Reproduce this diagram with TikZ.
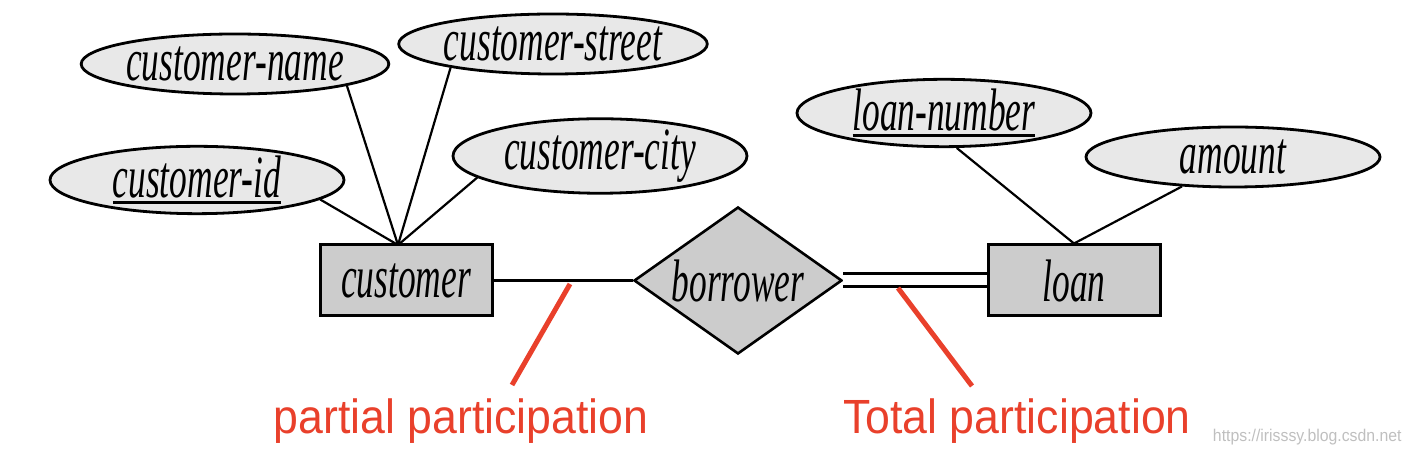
\documentclass[tikz,border=0pt]{standalone}
\usepackage{fontspec}
\setmainfont{Liberation Serif}
\newfontfamily\erfont[FakeStretch=0.59]{Liberation Serif}
\newfontfamily\lblfont[FakeStretch=0.93]{Liberation Sans}
\usetikzlibrary{shapes.geometric}
\definecolor{attrfill}{HTML}{E8E8E8}
\definecolor{entfill}{HTML}{CCCCCC}
\definecolor{annot}{HTML}{E9402B}
\newcommand\keyattr[1]{\setbox0\hbox{#1}\rlap{\rule[-3pt]{\wd0}{1.2pt}}\box0}
\begin{document}
\begin{tikzpicture}[x=0.5pt,y=-0.5pt,
  ertext/.style={font=\erfont\itshape\fontsize{30}{32}\selectfont},
  attr/.style={ertext, ellipse, draw, line width=1.4pt, fill=attrfill,
    minimum width=147pt, minimum height=30pt, inner sep=0pt},
  entity/.style={ertext, rectangle, draw, line width=1.5pt, fill=entfill,
    minimum width=86pt, minimum height=35.5pt, inner sep=0pt},
  rel/.style={ertext, diamond, draw, line width=1.3pt, fill=entfill,
    minimum width=104pt, minimum height=73.5pt, inner sep=0pt, shape aspect=1.4},
  conn/.style={line width=1.1pt},
  totalconn/.style={line width=1.5pt, double distance=5pt},
  pointer/.style={draw=annot, line width=2.5pt},
  annotlabel/.style={text=annot, font=\lblfont\fontsize{24}{26}\selectfont, inner sep=0pt, anchor=base},
  watermark/.style={text=black!25, font=\lblfont\fontsize{8.5}{9}\selectfont, inner sep=0pt, anchor=base east}
]
\useasboundingbox (0,0) rectangle (1410,458);

% attributes
\node[attr] (cname)   at (235,64)  {customer-name};
\node[attr] (cstreet) at (553,44)  {customer-street};
\node[attr] (cid)     at (197,180) {\keyattr{customer-id}};
\node[attr] (ccity)   at (600,156) {customer-city};
\node[attr] (lnum)    at (944,113) {\keyattr{loan-number}};
\node[attr] (amount)  at (1233,157) {amount};

% entities and relationship
\node[entity] (customer) at (406,280.5) {customer};
\node[rel]    (borrower) at (738,280.5) {borrower};
\node[entity] (loan)     at (1074,280.5) {loan};

% attribute connectors
\coordinate (cjoin) at (398,245);
\draw[conn] (cid.-9) -- (cjoin);
\draw[conn] (cname.-11) -- (cjoin);
\draw[conn] (cstreet.-167) -- (cjoin);
\draw[conn] (ccity.-170) -- (cjoin);
\draw[conn] (lnum.-70) -- (loan.north);
\draw[conn] (amount.-150) -- (loan.north);

% relationship connectors
\draw[conn] (customer.east) -- (borrower.west);
\draw[totalconn] (borrower.east) -- (loan.west);

% annotations
\coordinate (ptop) at (570,284);
\coordinate (pbot) at (512,385);
\coordinate (ttop) at (898,288);
\coordinate (tbot) at (972,386);
\draw[pointer] (ptop) -- (pbot);
\draw[pointer] (ttop) -- (tbot);
\node[annotlabel] (plabel) at (461,434) {partial participation};
\node[annotlabel] (tlabel) at (1017,434) {Total participation};

\node[watermark] (wm) at (1402,442) {https://irisssy.blog.csdn.net};
\end{tikzpicture}
\end{document}
